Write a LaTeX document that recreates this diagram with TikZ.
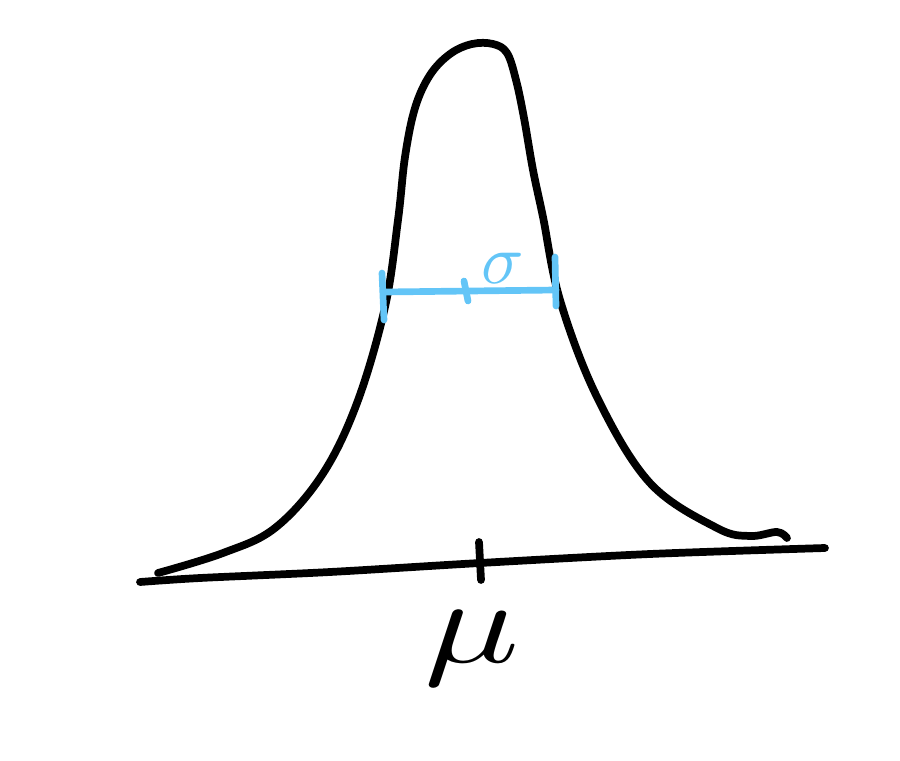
\documentclass[tikz,border=0pt]{standalone}
\usepackage{amsmath,amssymb}
\usepackage{xcolor}
\usepackage{tikz}
\usetikzlibrary{arrows.meta,positioning,calc}
\definecolor{sigblue}{RGB}{99,197,247}

\begin{document}
\begin{tikzpicture}[x=0.02cm,y=-0.02cm,
  ink/.style={line width=4.4pt,line cap=round,line join=round},
  bar/.style={ink,line width=3.8pt,sigblue}]
\useasboundingbox (0,0) rectangle (900,761);
% bell curve
\draw[ink] plot[smooth,tension=0.6] coordinates {(158,573) (223,553) (275,528) (322,475) (357,403) (385,307) (398,220) (405,157) (415,108) (430,75) (450,54) (472,44) (493,44) (507,53) (516,80) (524,118) (533,170) (543,217) (560,300) (597,397) (650,483) (717,528) (750,536) (777,532) (787,538)};
% axis and tick
\draw[ink] plot[smooth,tension=0.5] coordinates {(140,582) (200,578) (330,572) (480,563) (650,554) (825,548)};
\coordinate (tt) at (479,542);
\coordinate (tb) at (481,580);
\draw[ink] (tt)--(tb);
\node[xscale=9,yscale=6.8] (mu) at (472,648) {$\mu$};
% width bar
\coordinate (bl) at (384,292);
\coordinate (br) at (556,290);
\draw[bar] (bl)--(br);
\draw[bar] (382,273)--(384,320);
\draw[bar] (555,257)--(556,306);
\draw[bar] (464,281)--(468,301);
\node[sigblue,scale=4] (sig) at (503,268) {$\sigma$};
\end{tikzpicture}
\end{document}
